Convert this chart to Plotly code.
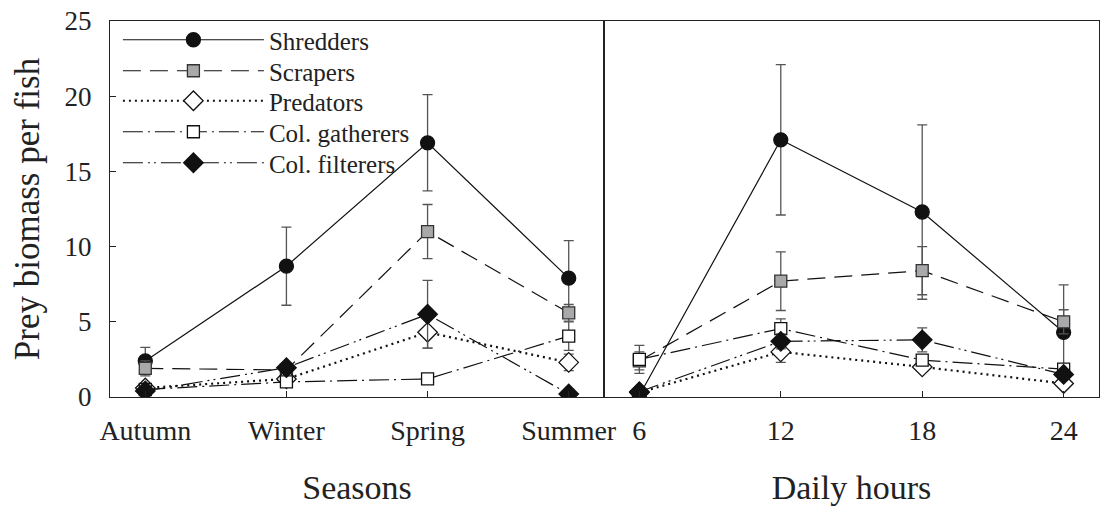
import plotly.graph_objects as go

seasons = ["Autumn", "Winter", "Spring", "Summer"]
hours = [6, 12, 18, 24]
hour_labels = ["6", "12", "18", "24"]
y_ticks = [0, 5, 10, 15, 20, 25]

series_names = ["Shredders", "Scrapers", "Predators", "Col. gatherers", "Col. filterers"]

shred_s = [2.4, 8.7, 16.9, 7.9]
shred_s_err = [0.9, 2.6, 3.2, 2.5]
scrap_s = [1.9, 1.8, 11.0, 5.6]
scrap_s_err = [0.5, 0.3, 1.8, 0.55]
pred_s = [0.6, 1.2, 4.3, 2.3]
pred_s_err = [0.3, 0.2, 1.05, 0.55]
gath_s = [0.5, 1.0, 1.2, 4.05]
gath_s_err = [0.2, 0.2, 0.1, 0.95]
filt_s = [0.4, 1.95, 5.5, 0.2]
filt_s_err = [0.2, 0.2, 2.25, 0.1]

shred_d = [0.1, 17.1, 12.3, 4.3]
shred_d_err = [0.1, 5.0, 5.8, 3.15]
scrap_d = [2.4, 7.7, 8.4, 5.0]
scrap_d_err = [0.6, 1.95, 1.6, 0.8]
pred_d = [0.3, 3.0, 2.0, 0.9]
pred_d_err = [0.1, 0.7, 0.3, 0.2]
gath_d = [2.5, 4.55, 2.45, 1.85]
gath_d_err = [0.93, 0.65, 0.3, 0.2]
filt_d = [0.35, 3.7, 3.8, 1.5]
filt_d_err = [0.1, 0.5, 0.8, 0.2]

styles = [
    dict(dash="solid", symbol="circle", mcolor="#111111", mline="#111111", size=14),
    dict(dash="18px,9px", symbol="square", mcolor="#a9a9ab", mline="#333333", size=12),
    dict(dash="2px,4px", symbol="diamond", mcolor="white", mline="#111111", size=15),
    dict(dash="20px,5px,2px,5px", symbol="square", mcolor="white", mline="#111111", size=12),
    dict(dash="20px,5px,2px,4px,2px,5px", symbol="diamond", mcolor="#111111", mline="#111111", size=15),
]
line_widths = [1.2, 1.2, 2.2, 1.2, 1.2]

season_data = [(shred_s, shred_s_err), (scrap_s, scrap_s_err), (pred_s, pred_s_err),
               (gath_s, gath_s_err), (filt_s, filt_s_err)]
daily_data = [(shred_d, shred_d_err), (scrap_d, scrap_d_err), (pred_d, pred_d_err),
              (gath_d, gath_d_err), (filt_d, filt_d_err)]

fig = go.Figure()

draw_order = [0, 1, 2, 3, 4]
for xs, data, xa, ya in [(list(range(len(seasons))), season_data, "x", "y"),
                         (hours, daily_data, "x2", "y2")]:
    for i in draw_order:
        st = styles[i]
        vals, errs = data[i]
        fig.add_trace(go.Scatter(
            x=xs, y=vals, name=series_names[i],
            mode="lines+markers", xaxis=xa, yaxis=ya, showlegend=False,
            line=dict(color="#111111", width=line_widths[i], dash=st["dash"]),
            marker=dict(symbol=st["symbol"], size=st["size"], color=st["mcolor"],
                        line=dict(color=st["mline"], width=1.3)),
            error_y=dict(type="data", array=errs, visible=True, color="#555555",
                         thickness=1.3, width=5),
        ))

font_family = "Liberation Serif"

# legend entries: one legend box per series so rows can be spaced like the original
legend_layout = {}
plot_top, plot_h = 21, 376
row_px = [40, 71, 101, 132, 163]
for i in range(5):
    st = styles[i]
    key = "legend" if i == 0 else f"legend{i + 1}"
    fig.add_trace(go.Scatter(
        x=[None], y=[None], name=series_names[i], mode="lines+markers",
        xaxis="x", yaxis="y", showlegend=True, legend=key,
        line=dict(color="#111111", width=line_widths[i], dash=st["dash"]),
        marker=dict(symbol=st["symbol"], size=st["size"], color=st["mcolor"],
                    line=dict(color=st["mline"], width=1.3)),
    ))
    legend_layout[key] = dict(
        x=0.008, y=1 - (row_px[i] - plot_top) / plot_h, xanchor="left", yanchor="middle",
        font=dict(family=font_family, size=25, color="#222222"),
        bgcolor="rgba(0,0,0,0)", itemwidth=141, borderwidth=0,
    )

axis_common = dict(showline=True, linecolor="#222222", linewidth=1.2, mirror=True,
                   showgrid=False, zeroline=False, ticks="inside", ticklen=6,
                   tickcolor="#222222")

split = 0.4995
fig.update_layout(
    width=1114, height=509,
    margin=dict(l=110, r=3, t=21, b=112),
    paper_bgcolor="white", plot_bgcolor="white",
    font=dict(family=font_family, color="#222222"),
    xaxis=dict(domain=[0, split], range=[-0.25, 3.25], tickmode="array",
               tickvals=list(range(len(seasons))), ticktext=seasons,
               tickfont=dict(family=font_family, size=28, color="#222222"),
               ticklabelstandoff=8,
               title=dict(text="Seasons", font=dict(size=34), standoff=30),
               **axis_common),
    xaxis2=dict(domain=[split, 1], range=[4.5, 25.5], tickmode="array",
                tickvals=hours, ticktext=hour_labels, anchor="y2",
                tickfont=dict(family=font_family, size=28, color="#222222"),
                ticklabelstandoff=8,
                title=dict(text="Daily hours", font=dict(size=34), standoff=30),
                **axis_common),
    yaxis=dict(range=[0, 25], tickmode="array", tickvals=y_ticks,
               ticktext=[str(v) for v in y_ticks],
               tickfont=dict(family=font_family, size=27, color="#222222"),
               ticklabelstandoff=12,
               title=dict(text="Prey biomass per fish", font=dict(size=35), standoff=14),
               **axis_common),
    yaxis2=dict(range=[0, 25], anchor="x2", showticklabels=False,
                showline=True, linecolor="#222222", linewidth=1.2, mirror=True,
                showgrid=False, zeroline=False, ticks=""),
    showlegend=True,
    **legend_layout,
)

fig.write_html("out.html")
